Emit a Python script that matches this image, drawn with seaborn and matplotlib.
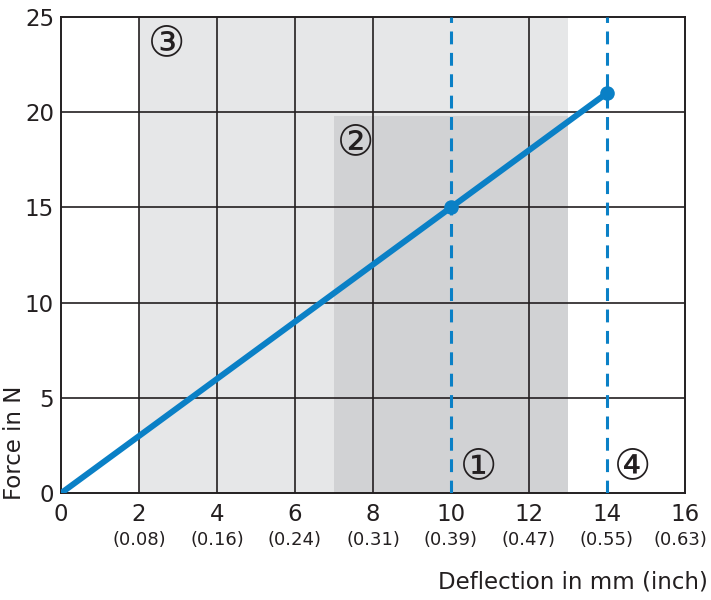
import pandas as pd
import seaborn as sns
import matplotlib.pyplot as plt
from matplotlib.transforms import offset_copy

# characteristic curve
deflection_mm = [0, 10, 14]
force_n = [0, 15, 21]
marked_mm = [10, 14]
marked_n = [15, 21]

# axis ticks
x_ticks = [0, 2, 4, 6, 8, 10, 12, 14, 16]
x_inch = ["", "(0.08)", "(0.16)", "(0.24)", "(0.31)", "(0.39)", "(0.47)", "(0.55)", "(0.63)"]
y_ticks = [0, 5, 10, 15, 20, 25]

# shaded ranges (x from, x to, y top)
range3 = (2, 13, 25)
range2 = (7, 13, 19.8)
dashed_x = [10, 14]

# circled labels
label_text = ["\u2460", "\u2461", "\u2462", "\u2463"]
label_x = [10.7, 7.55, 2.7, 14.65]
label_y = [1.4, 18.4, 23.6, 1.4]

BLUE = "#0a80c6"
INK = "#231f20"

sns.set_style("white")
plt.rcParams['font.family'] = ['DejaVu Sans', 'Noto Sans CJK JP']

fig = plt.figure(figsize=(7.11, 6.0), dpi=100)
ax = fig.add_axes([0.0858, 0.178, 0.8776, 0.7939])

# shaded areas
ax.fill_between([range3[0], range3[1]], 0, range3[2], color="#e6e7e8", lw=0, zorder=0)
ax.fill_between([range2[0], range2[1]], 0, range2[2], color="#d1d2d4", lw=0, zorder=0)

ax.set_xlim(0, 16)
ax.set_ylim(0, 25)
ax.set_xticks(x_ticks)
ax.set_yticks(y_ticks)

# grid (skipped where the dashed markers sit)
for xv in x_ticks[1:-1]:
    if xv not in dashed_x:
        ax.axvline(xv, color=INK, lw=1.2, zorder=1)
for yv in y_ticks[1:-1]:
    ax.axhline(yv, color=INK, lw=1.2, zorder=1)
for s in ax.spines.values():
    s.set_color(INK)
    s.set_linewidth(1.4)

for xv in dashed_x:
    ax.axvline(xv, color=BLUE, lw=2.2, ls=(0, (4.2, 2.8)), zorder=3)

df = pd.DataFrame({"mm": deflection_mm, "n": force_n})
sns.lineplot(data=df, x="mm", y="n", color=BLUE, lw=4.3, ax=ax, zorder=4,
             solid_capstyle="butt")
sns.scatterplot(x=marked_mm, y=marked_n, color=BLUE, s=110, linewidth=0, ax=ax, zorder=5)

ax.tick_params(axis="x", length=0, labelsize=16.5, colors=INK, pad=7)
ax.tick_params(axis="y", length=0, labelsize=16.5, colors=INK, pad=5)
ax.set_xticklabels([str(t) for t in x_ticks])
base = ax.get_xaxis_transform()
for i, (xv, lab) in enumerate(zip(x_ticks, x_inch)):
    tr = offset_copy(base, fig=fig, x=-5 if i == len(x_ticks) - 1 else 0, units="dots")
    ax.text(xv, -0.08, lab, transform=tr, ha="center", va="top",
            fontsize=13, color=INK)

for t, xv, yv in zip(label_text, label_x, label_y):
    ax.text(xv, yv, t, ha="center", va="center", fontsize=30, color=INK, zorder=6)

ax.set_xlabel("")
ax.set_ylabel("")
fig.text(0.996, 0.03, "Deflection in mm (inch)", ha="right", va="center",
         fontsize=16.5, color=INK)
fig.text(0.02, 0.262, "Force in N", ha="center", va="center", rotation=90,
         fontsize=16.5, color=INK)

fig.savefig("out.png", dpi=100)
